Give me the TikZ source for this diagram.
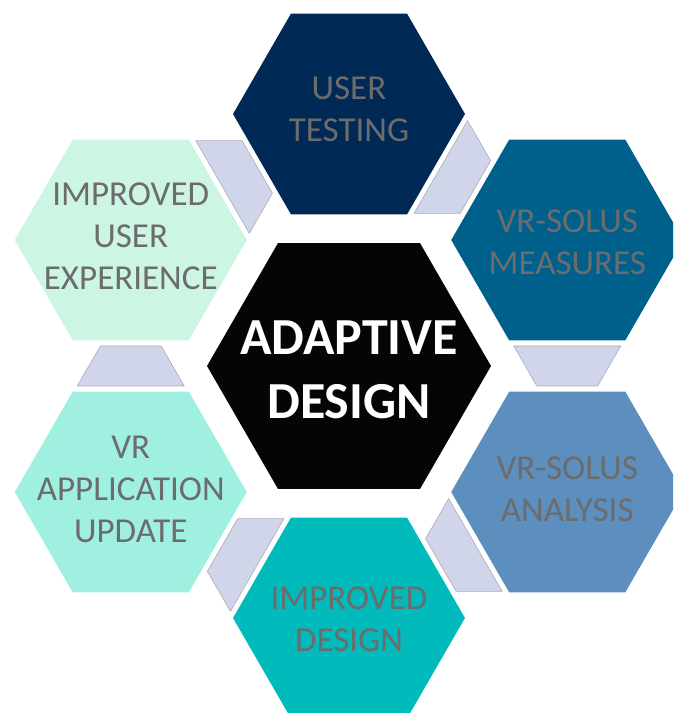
\documentclass[tikz,border=0pt]{standalone}
\usepackage{fontspec}
\setmainfont{Carlito}
\definecolor{hubblack}{RGB}{5, 5, 5}
\definecolor{testnavy}{RGB}{0, 42, 85}
\definecolor{measureblue}{RGB}{0, 96, 140}
\definecolor{analysisblue}{RGB}{92, 142, 190}
\definecolor{designteal}{RGB}{0, 186, 188}
\definecolor{updateaqua}{RGB}{160, 240, 226}
\definecolor{expermint}{RGB}{205, 245, 228}
\definecolor{linkfill}{RGB}{208, 213, 234}
\definecolor{linkedge}{RGB}{170, 172, 182}
\definecolor{labelgray}{RGB}{108, 108, 108}
\usepackage{tikz}
\usetikzlibrary{
    shapes.geometric,
    positioning,
    calc
}
\tikzset{
    hexbox/.style={regular polygon, regular polygon sides=6, minimum size=232pt,
        inner sep=0pt, outer sep=0pt, draw=none},
    hexlabel/.style={align=center, font=\fontsize{35}{42}\selectfont, text=labelgray},
    link/.style={fill=linkfill, draw=linkedge, line width=0.6pt, line join=round}
}

\begin{document}
\begin{tikzpicture}[x=1pt, y=1pt]
    \useasboundingbox (0,0) rectangle (673,713);
    \clip (0,0) rectangle (673,713);

    % Central hexagon
    \node[hexbox, minimum size=284pt, fill=hubblack] (hub) at (349,347) {};
    \node[font=\fontsize{52}{64}\selectfont\bfseries, text=white, align=center,
        yshift=-4pt] (hubtext) at (hub) {ADAPTIVE\\DESIGN};

    % Outer hexagons, clockwise from the top
    \node[hexbox, fill=testnavy] (test) at ($(hub)+(90:252)$) {};
    \node[hexlabel, yshift=5pt] (testtext) at (test) {USER\\TESTING};

    \node[hexbox, fill=measureblue] (measure) at ($(hub)+(30:252)$) {};
    \node[hexlabel, yshift=-2pt] (measuretext) at (measure) {VR-SOLUS\\MEASURES};

    \node[hexbox, fill=analysisblue] (analysis) at ($(hub)+(-30:252)$) {};
    \node[hexlabel, yshift=3pt] (analysistext) at (analysis) {VR-SOLUS\\ANALYSIS};

    \node[hexbox, fill=designteal] (design) at ($(hub)+(-90:252)$) {};
    \node[hexlabel, yshift=-1pt] (designtext) at (design) {IMPROVED\\DESIGN};

    \node[hexbox, fill=updateaqua] (update) at ($(hub)+(-150:252)$) {};
    \node[hexlabel, yshift=3pt] (updatetext) at (update) {VR\\APPLICATION\\UPDATE};

    \node[hexbox, fill=expermint] (exper) at ($(hub)+(150:252)$) {};
    \node[hexlabel, yshift=4pt] (expertext) at (exper) {IMPROVED\\USER\\EXPERIENCE};

    % Connectors between neighbouring hexagons (narrow end points onward)
    \begin{scope}[shift={($(exper)!0.5!(test)$)}, rotate=30]
        \draw[link] (-20,-53.5) -- (-20,53.5) -- (20,30.4) -- (20,-30.4) -- cycle;
    \end{scope}
    \begin{scope}[shift={($(test)!0.5!(measure)$)}, rotate=-30]
        \draw[link] (-20,-53.5) -- (-20,53.5) -- (20,30.4) -- (20,-30.4) -- cycle;
    \end{scope}
    \begin{scope}[shift={($(measure)!0.5!(analysis)$)}, rotate=-90]
        \draw[link] (-20,-53.5) -- (-20,53.5) -- (20,30.4) -- (20,-30.4) -- cycle;
    \end{scope}
    \begin{scope}[shift={($(analysis)!0.5!(design)$)}, rotate=-150]
        \draw[link] (-20,-53.5) -- (-20,53.5) -- (20,30.4) -- (20,-30.4) -- cycle;
    \end{scope}
    \begin{scope}[shift={($(design)!0.5!(update)$)}, rotate=150]
        \draw[link] (-20,-53.5) -- (-20,53.5) -- (20,30.4) -- (20,-30.4) -- cycle;
    \end{scope}
    \begin{scope}[shift={($(update)!0.5!(exper)$)}, rotate=90]
        \draw[link] (-20,-53.5) -- (-20,53.5) -- (20,30.4) -- (20,-30.4) -- cycle;
    \end{scope}
\end{tikzpicture}
\end{document}
